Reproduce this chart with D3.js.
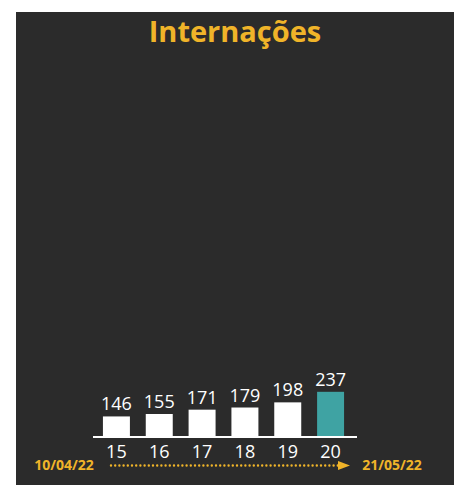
<!DOCTYPE html>
<html>
<head>
<meta charset="utf-8">
<script src="https://cdn.jsdelivr.net/npm/d3@7"></script>
<style>
  body { margin: 0; background: #fff; }
  svg { display: block; }
</style>
</head>
<body>
<script>
// data
var weeks = ["15", "16", "17", "18", "19", "20"];
var values = [146, 155, 171, 179, 198, 237];
var title = "Internações";
var startDate = "10/04/22";
var endDate = "21/05/22";

var width = 454, height = 486;
var gold = "#F0B429", teal = "#3FA3A3";

var svg = d3.select("body").append("svg")
  .attr("width", width)
  .attr("height", height);

// dark board
svg.append("rect")
  .attr("x", 16).attr("y", 12)
  .attr("width", width - 16).attr("height", 473)
  .attr("fill", "#2b2b2b");

// title
svg.append("text")
  .attr("x", 235).attr("y", 42)
  .attr("text-anchor", "middle")
  .attr("fill", gold)
  .style("font-family", "'Open Sans', sans-serif")
  .style("font-weight", "bold")
  .style("font-size", "29px")
  .text(title);

// scales
var baseY = 437;
var x = d3.scaleBand()
  .domain(weeks)
  .range([95, 352])
  .paddingInner(0.37)
  .paddingOuter(0.185);

var y = d3.scaleLinear()
  .domain([70, 240])
  .range([baseY, baseY - 46]);

// bars
svg.selectAll("rect.bar").data(values)
  .enter().append("rect")
  .attr("class", "bar")
  .attr("x", function(d, i){ return x(weeks[i]); })
  .attr("width", x.bandwidth())
  .attr("y", function(d){ return y(d); })
  .attr("height", function(d){ return baseY - y(d); })
  .attr("fill", function(d, i){ return i == values.length - 1 ? teal : "#fff"; });

// value labels
svg.selectAll("text.val").data(values)
  .enter().append("text")
  .attr("class", "val")
  .attr("x", function(d, i){ return x(weeks[i]) + x.bandwidth() / 2; })
  .attr("y", function(d){ return y(d) - 6; })
  .attr("text-anchor", "middle")
  .attr("fill", "#fff")
  .style("font-family", "'Open Sans', sans-serif")
  .style("font-size", "18px")
  .text(function(d){ return d; });

// baseline
svg.append("line")
  .attr("x1", 93).attr("x2", 357)
  .attr("y1", baseY).attr("y2", baseY)
  .attr("stroke", "#fff")
  .attr("stroke-width", 2);

// week labels
var axis = d3.axisBottom(x).tickSize(0).tickPadding(7);
var g = svg.append("g")
  .attr("transform", "translate(0," + (baseY + 1) + ")")
  .call(axis);
g.select(".domain").remove();
g.selectAll("text")
  .attr("fill", "#fff")
  .style("font-family", "'Open Sans', sans-serif")
  .style("font-size", "18px");

// dotted arrow
svg.append("line")
  .attr("x1", 111).attr("x2", 338)
  .attr("y1", 465.5).attr("y2", 465.5)
  .attr("stroke", gold)
  .attr("stroke-width", 2.4)
  .attr("stroke-linecap", "round")
  .attr("stroke-dasharray", "0 4.2");
svg.append("path")
  .attr("d", "M338,461 L350,465.5 L338,470 Z")
  .attr("fill", gold);

// date labels
svg.append("text")
  .attr("x", 64).attr("y", 470)
  .attr("text-anchor", "middle")
  .attr("fill", gold)
  .style("font-family", "'Open Sans', sans-serif")
  .style("font-weight", "bold")
  .style("font-size", "14px")
  .text(startDate);
svg.append("text")
  .attr("x", 392).attr("y", 470)
  .attr("text-anchor", "middle")
  .attr("fill", gold)
  .style("font-family", "'Open Sans', sans-serif")
  .style("font-weight", "bold")
  .style("font-size", "14px")
  .text(endDate);
</script>
</body>
</html>
